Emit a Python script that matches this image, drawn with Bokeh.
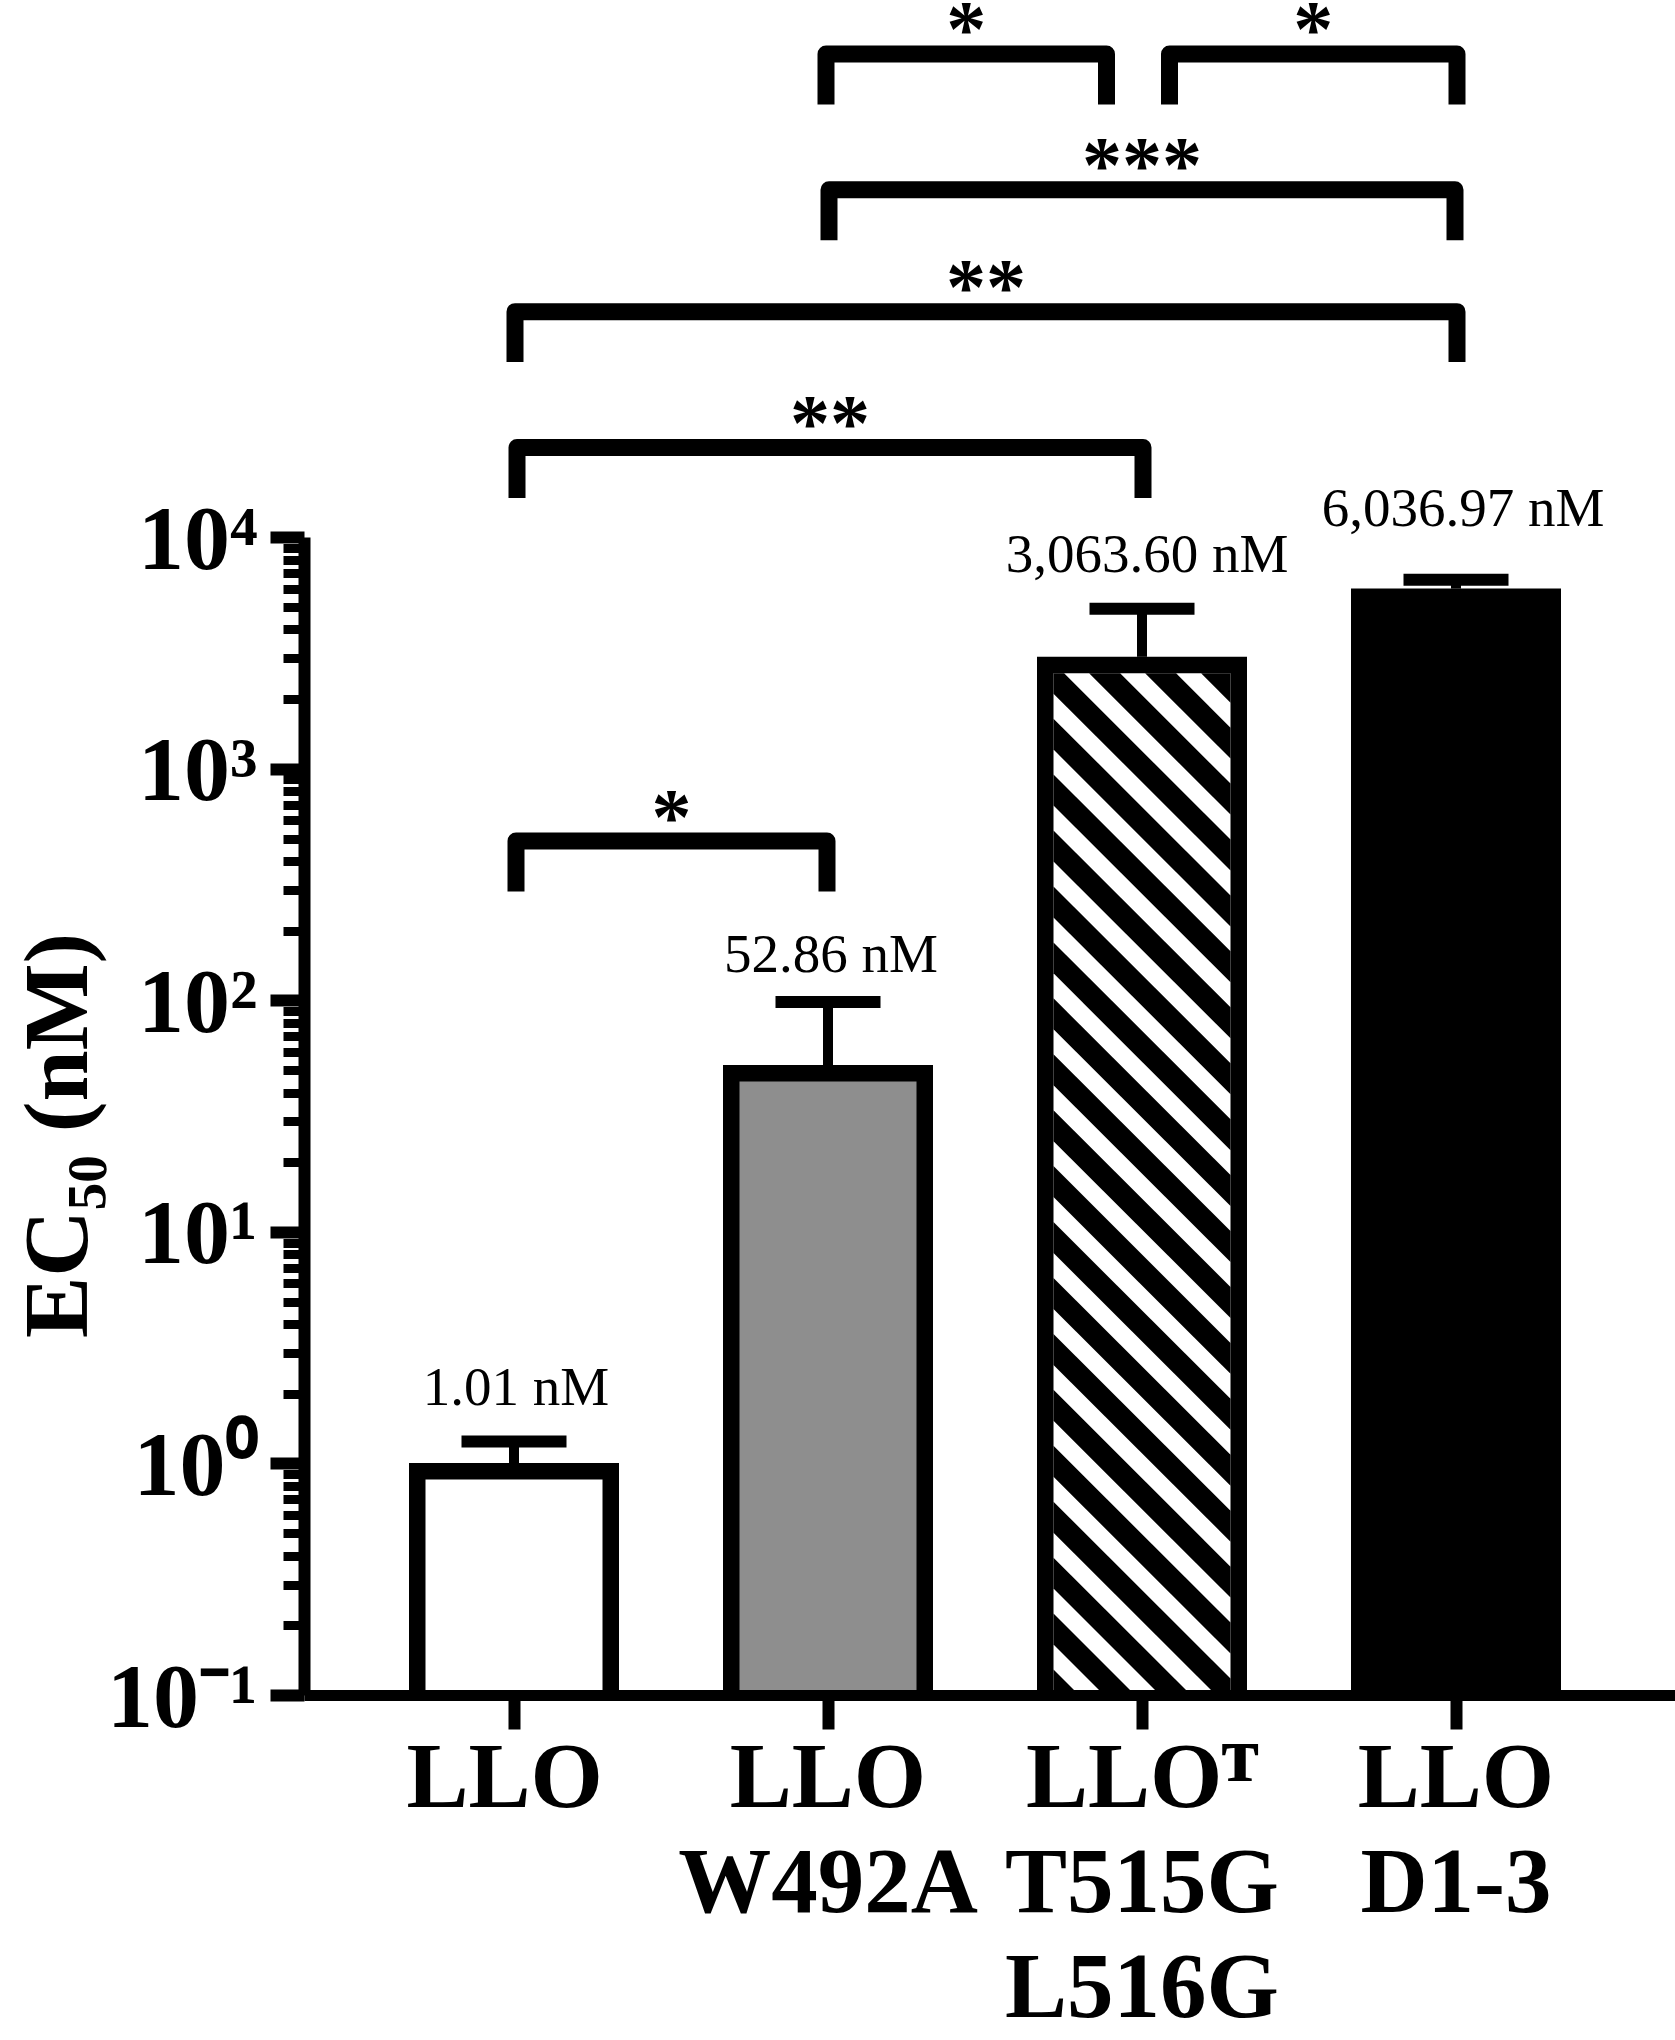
import math
from bokeh.plotting import figure
from bokeh.models import Label, FixedTicker
from bokeh.embed import file_html
from bokeh.resources import INLINE

# ---------------- data ----------------
categories = ["LLO", "LLO W492A", "LLO T T515G L516G", "LLO D1-3"]
tick_labels = ["LLO\u2009", "LLO\nW492A", "LLO\u1D40\nT515G\nL516G", "LLO\nD1-3"]
ec50_nM = [1.01, 52.86, 3063.60, 6036.97]
ec50_upper_nM = [1.25, 99.0, 4940.0, 6590.0]
value_labels = ["1.01 nM", "52.86 nM", "3,063.60 nM", "6,036.97 nM"]
bar_fills = ["white", "#8e8e8e", "hatch", "black"]
comp_left = [0, 0, 0, 1, 1, 2]
comp_right = [1, 2, 3, 3, 2, 3]
comp_stars = ["*", "**", "**", "***", "*", "*"]
y_tick_values = [0.1, 1, 10, 100, 1000, 10000]
y_tick_labels = ["10\u207B\u00B9", "10\u2070", "10\u00B9", "10\u00B2", "10\u00B3", "10\u2074"]
y_minor_ticks = [k * 10.0 ** d for d in range(-1, 4) for k in range(2, 10)]
y_title = "EC\u2085\u2080 (nM)"

# ---------------- layout (pixel geometry) ----------------
FIG_W, FIG_H = 1675, 2040
AX_X = 304.0        # y-axis line
AX_Y = 1697.0       # x-axis line (10^-1)
TOP4 = 538.0        # 10^4
RIGHT = 1675.0
CAT0, CAT_STEP = 513.5, 314.0
DEC = (AX_Y - TOP4) / 5.0
TITLE_PAD = "\u2003" * 6 + "\u2005"   # shifts the centred y title down along the axis

SERIF = "Liberation Serif"


def xp(v):
    return CAT0 + CAT_STEP * v


def yp(v):
    return AX_Y - (math.log10(v) + 1.0) * DEC


def xd(px):
    return (px - CAT0) / CAT_STEP


def yd(py):
    return 10.0 ** (-1.0 + (AX_Y - py) / DEC)


y_end = 10.0 ** (4.0 + TOP4 / DEC)
p = figure(width=FIG_W, height=FIG_H, y_axis_type="log",
           x_range=(xd(AX_X), xd(RIGHT)), y_range=(0.1, y_end),
           output_backend="svg", toolbar_location=None,
           min_border_left=int(AX_X), min_border_right=0,
           min_border_top=0, min_border_bottom=int(FIG_H - AX_Y))
p.title.visible = False
p.xgrid.visible = False
p.ygrid.visible = False
p.outline_line_color = None
p.background_fill_color = "white"
p.border_fill_color = "white"

# axes
xax = p.xaxis[0]
xax.ticker = FixedTicker(ticks=list(range(len(categories))))
xax.major_label_overrides = {i: t for i, t in enumerate(tick_labels)}
xax.axis_line_width = 11
xax.axis_line_color = "black"
xax.major_tick_line_width = 12
xax.major_tick_line_color = "black"
xax.major_tick_in = 0
xax.major_tick_out = 34
xax.minor_tick_out = 0
xax.major_label_text_font = SERIF
xax.major_label_text_font_style = "bold"
xax.major_label_text_font_size = "93px"
xax.major_label_text_line_height = 1.024
xax.major_label_text_color = "black"
xax.major_label_standoff = -6

yax = p.yaxis[0]
yax.ticker = FixedTicker(ticks=y_tick_values, minor_ticks=y_minor_ticks)
yax.major_label_overrides = {v: t for v, t in zip(y_tick_values, y_tick_labels)}
yax.bounds = (0.1, 10000)
yax.axis_line_width = 12
yax.axis_line_color = "black"
yax.major_tick_line_width = 12
yax.major_tick_line_color = "black"
yax.major_tick_in = 0
yax.major_tick_out = 34
yax.minor_tick_line_width = 9
yax.minor_tick_line_color = "black"
yax.minor_tick_in = 0
yax.minor_tick_out = 21
yax.major_label_text_font = SERIF
yax.major_label_text_font_style = "bold"
yax.major_label_text_font_size = "92px"
yax.major_label_text_color = "black"
yax.major_label_standoff = 13
yax.axis_label = y_title + TITLE_PAD
yax.axis_label_text_font = SERIF
yax.axis_label_text_font_style = "bold"
yax.axis_label_text_font_size = "92px"
yax.axis_label_text_color = "black"
yax.axis_label_standoff = -3

# ---------------- bars ----------------
xs = list(range(len(categories)))
BAR_HALF = 105.0
BORDER = 16.5
hw = BAR_HALF / CAT_STEP
p.quad(left=[x - hw for x in xs], right=[x + hw for x in xs],
       bottom=[0.1] * len(xs), top=ec50_nM, fill_color="black", line_color=None)

inner = [i for i, f in enumerate(bar_fills) if f != "black"]
bi = BORDER / CAT_STEP
p.quad(left=[i - hw + bi for i in inner], right=[i + hw - bi for i in inner],
       bottom=[0.1] * len(inner),
       top=[ec50_nM[i] * 10 ** (-BORDER / DEC) for i in inner],
       fill_color=["white" if bar_fills[i] == "hatch" else bar_fills[i] for i in inner],
       line_color=None)


def clip(poly, a, b, c):
    out = []
    n = len(poly)
    for j in range(n):
        P, Q = poly[j], poly[(j + 1) % n]
        fp = a * P[0] + b * P[1] + c
        fq = a * Q[0] + b * Q[1] + c
        if fp >= 0:
            out.append(P)
        if (fp >= 0) != (fq >= 0):
            t = fp / (fp - fq)
            out.append((P[0] + t * (Q[0] - P[0]), P[1] + t * (Q[1] - P[1])))
    return out


STRIPE_PERIOD, STRIPE_HALF, STRIPE_PHASE = 56.0, 15.5, -4.9
sx, sy = [], []
for i in [k for k, f in enumerate(bar_fills) if f == "hatch"]:
    L = xp(i) - BAR_HALF + BORDER
    R = xp(i) + BAR_HALF - BORDER
    T = yp(ec50_nM[i]) + BORDER
    B = AX_Y
    rect = [(L, T), (R, T), (R, B), (L, B)]
    k = -40
    while True:
        uc = STRIPE_PHASE + STRIPE_PERIOD * k
        k += 1
        if uc - STRIPE_HALF > (R - L):
            break
        if uc + STRIPE_HALF < -(B - T):
            continue
        poly = clip(rect, 1, -1, -(L - T) - uc + STRIPE_HALF)
        poly = clip(poly, -1, 1, (L - T) + uc + STRIPE_HALF)
        if len(poly) >= 3:
            sx.append([xd(q[0]) for q in poly])
            sy.append([yd(q[1]) for q in poly])
p.patches(sx, sy, fill_color="black", line_color=None)

# error bars
p.segment(x0=xs, y0=ec50_nM, x1=xs, y1=ec50_upper_nM, line_width=10, line_color="black")
cap = 52.5 / CAT_STEP
p.segment(x0=[x - cap for x in xs], y0=ec50_upper_nM, x1=[x + cap for x in xs],
          y1=ec50_upper_nM, line_width=12, line_color="black")

# value labels
value_dx = [2, 3, 5, 7]
value_gap = [55.5, 48.5, 55, 72]
for i, t in enumerate(value_labels):
    p.add_layout(Label(x=xd(xp(i) + value_dx[i]), y=yd(yp(ec50_upper_nM[i]) - value_gap[i]),
                       text=t, text_font=SERIF, text_font_size="55px",
                       text_align="center", text_baseline="alphabetic", text_color="black"))

# ---------------- significance brackets ----------------
bracket_top = [833, 439, 303, 181, 45, 45]
bracket_dx = [(2, -1), (3, 1), (1, 1), (1, -1), (-2, -35.5), (27.5, 1)]
BR_H, BR_LW = 59.0, 17.0
bxs, bys = [], []
for j in range(len(comp_stars)):
    xl = xp(comp_left[j]) + bracket_dx[j][0]
    xr = xp(comp_right[j]) + bracket_dx[j][1]
    top = bracket_top[j]
    yc = top + BR_LW / 2
    bot = top + BR_H
    bxs.append([xd(xl), xd(xl), xd(xr), xd(xr)])
    bys.append([yd(bot), yd(yc), yd(yc), yd(bot)])
    p.add_layout(Label(x=xd((xl + xr) / 2), y=yd(top - 16), text=comp_stars[j],
                       text_font=SERIF, text_font_style="bold", text_font_size="80px",
                       text_align="center", text_baseline="alphabetic", text_color="black"))
p.multi_line(bxs, bys, line_width=BR_LW, line_color="black", line_join="round", line_cap="butt")

open("out.html", "w").write(file_html(p, INLINE))
